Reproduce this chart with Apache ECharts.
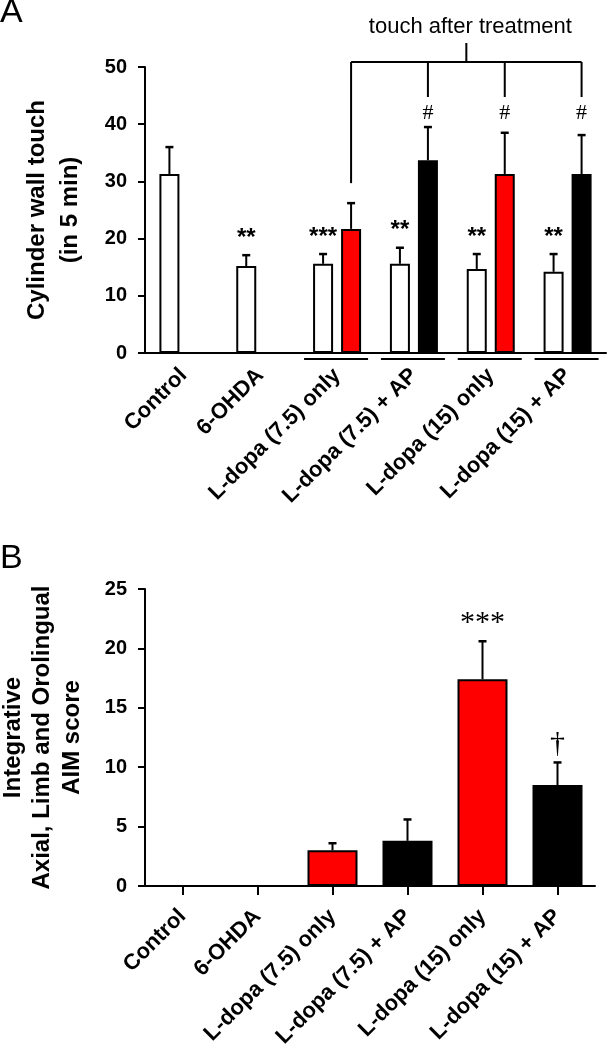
<!DOCTYPE html>
<html><head><meta charset="utf-8">
<script src="https://cdn.jsdelivr.net/npm/echarts@6/dist/echarts.min.js"></script>
<style>html,body{margin:0;padding:0;background:#fff}#c{width:607px;height:1050px}</style>
</head><body><div id="c"></div>
<script>
// ---------- data ----------
const categories = ['Control', '6-OHDA', 'L-dopa (7.5) only', 'L-dopa (7.5) + AP', 'L-dopa (15) only', 'L-dopa (15) + AP'];
const touchBefore = [31.3, 15.2, 15.6, 15.6, 14.7, 14.2];
const touchBeforeErr = [4.7, 1.9, 1.7, 2.8, 2.6, 3.1];
const touchAfter = [null, null, 21.7, 33.7, 31.3, 31.3];
const touchAfterErr = [null, null, 4.5, 5.8, 7.2, 6.8];
const touchBeforeMarks = ['', '**', '***', '**', '**', '**'];
const touchAfterMarks = ['', '', '', '#', '#', '#'];
const aimScore = [0, 0, 3.0, 3.8, 17.4, 8.5];
const aimErr = [0, 0, 0.6, 1.8, 3.2, 1.9];
const aimMarks = ['', '', '', '', '***', '\u2020'];
const touchTicks = [0, 10, 20, 30, 40, 50];
const aimTicks = [0, 5, 10, 15, 20, 25];
const touchTitle = 'Cylinder wall touch\n(in 5 min)';
const aimTitle = 'Integrative\nAxial, Limb and Orolingual\nAIM score';
const bracketText = 'touch after treatment';

// ---------- style ----------
const SANS = 'Liberation Sans';
const RED = '#ff0000', BLACK = '#000000';
const BAR_W = 20, BAR_GAP = 8;
const OFF = (BAR_W + BAR_GAP) / 2;
const HASH_LEVEL = 42;

function errRender(offset, marks, markFont, markGap, fixedLevel) {
  return function (params, api) {
    const i = api.value(0), v = api.value(1), e = api.value(2);
    if (v == null || isNaN(v)) return;
    const base = api.coord([i, v]);
    const top = api.coord([i, v + e]);
    const x = base[0] + offset;
    const children = [];
    if (e > 0) {
      children.push({ type: 'line', shape: { x1: x, y1: base[1], x2: x, y2: top[1] }, style: { stroke: '#000', lineWidth: 2 } });
      children.push({ type: 'line', shape: { x1: x - 4, y1: top[1], x2: x + 4, y2: top[1] }, style: { stroke: '#000', lineWidth: 2.5 } });
    }
    const m = marks[params.dataIndex];
    if (m) {
      const y = fixedLevel != null ? api.coord([i, fixedLevel])[1] : top[1] - markGap;
      children.push({ type: 'text', x: x, y: y, style: { text: m, font: markFont, fill: '#000', textAlign: 'center', textVerticalAlign: 'middle' } });
    }
    return { type: 'group', children };
  };
}

const axisLineStyle = { lineStyle: { color: '#000', width: 2 } };

const option = {
  animation: false,
  backgroundColor: '#fff',
  graphic: [
    { type: 'text', left: 0, top: -4, style: { text: 'A', font: '34px ' + SANS, fill: '#000' } },
    { type: 'text', left: 0, top: 542, style: { text: 'B', font: '34px ' + SANS, fill: '#000' } }
  ],
  grid: [
    { left: 145, top: 67, width: 461, height: 286, containLabel: false, outerBoundsMode: 'none' },
    { left: 145, top: 589, width: 450, height: 297, containLabel: false, outerBoundsMode: 'none' }
  ],
  xAxis: [
    {
      type: 'category', gridIndex: 0, data: categories,
      axisLine: axisLineStyle, axisTick: { show: false },
      axisLabel: { rotate: 45, interval: 0, margin: 19, color: '#000', fontFamily: SANS, fontWeight: 'bold', fontSize: 22 }
    },
    {
      type: 'category', gridIndex: 1, data: categories,
      axisLine: axisLineStyle,
      axisTick: { show: true, alignWithLabel: true, length: 9, lineStyle: { color: '#000', width: 2 } },
      axisLabel: { rotate: 45, interval: 0, margin: 27, color: '#000', fontFamily: SANS, fontWeight: 'bold', fontSize: 22 }
    }
  ],
  yAxis: [
    {
      type: 'value', gridIndex: 0, min: touchTicks[0], max: touchTicks[touchTicks.length - 1], interval: touchTicks[1] - touchTicks[0],
      axisLine: { show: true, lineStyle: { color: '#000', width: 2 } },
      axisTick: { show: true, length: 7, lineStyle: { color: '#000', width: 2 } },
      axisLabel: { margin: 18, color: '#000', fontFamily: SANS, fontWeight: 'bold', fontSize: 20 },
      splitLine: { show: false },
      name: touchTitle, nameLocation: 'middle', nameRotate: 90, nameGap: 58,
      nameTextStyle: { color: '#000', fontFamily: SANS, fontWeight: 'bold', fontSize: 24, lineHeight: 33 }
    },
    {
      type: 'value', gridIndex: 1, min: aimTicks[0], max: aimTicks[aimTicks.length - 1], interval: aimTicks[1] - aimTicks[0],
      axisLine: { show: true, lineStyle: { color: '#000', width: 2 } },
      axisTick: { show: true, length: 7, lineStyle: { color: '#000', width: 2 } },
      axisLabel: { margin: 18, color: '#000', fontFamily: SANS, fontWeight: 'bold', fontSize: 20 },
      splitLine: { show: false },
      name: aimTitle, nameLocation: 'middle', nameRotate: 90, nameGap: 58,
      nameTextStyle: { color: '#000', fontFamily: SANS, fontWeight: 'bold', fontSize: 24, lineHeight: 29.5 }
    }
  ],
  series: [
    {
      type: 'bar', name: 'before', xAxisIndex: 0, yAxisIndex: 0,
      data: touchBefore, barWidth: BAR_W, barGap: (BAR_GAP / BAR_W * 100) + '%',
      itemStyle: { color: '#fff', borderColor: '#000', borderWidth: 2 }
    },
    {
      type: 'bar', name: 'after', xAxisIndex: 0, yAxisIndex: 0,
      data: touchAfter.map(v => v == null ? '-' : v), barWidth: BAR_W,
      itemStyle: { color: p => (p.dataIndex % 2 === 0 ? RED : BLACK), borderColor: '#000', borderWidth: 2 }
    },
    {
      type: 'custom', xAxisIndex: 0, yAxisIndex: 0, z: 5, clip: false,
      data: touchBefore.map((v, i) => [i, v, touchBeforeErr[i]]),
      renderItem: errRender(-OFF, touchBeforeMarks, 'bold 24px ' + SANS, 17, null)
    },
    {
      type: 'custom', xAxisIndex: 0, yAxisIndex: 0, z: 5, clip: false,
      data: touchAfter.map((v, i) => [i, v == null ? NaN : v, touchAfterErr[i] == null ? NaN : touchAfterErr[i]]),
      renderItem: errRender(OFF, touchAfterMarks, '22px Liberation Serif', 0, HASH_LEVEL)
    },
    {
      // underlines below paired groups
      type: 'custom', xAxisIndex: 0, yAxisIndex: 0, z: 5, clip: false,
      data: touchAfter.map((v, i) => [i, v == null ? NaN : 0]).filter(d => !isNaN(d[1])),
      renderItem: function (params, api) {
        const p = api.coord([api.value(0), 0]);
        return { type: 'line', shape: { x1: p[0] - 33, y1: p[1] + 6, x2: p[0] + 31, y2: p[1] + 6 }, style: { stroke: '#000', lineWidth: 2 } };
      }
    },
    {
      // bracket "touch after treatment"
      type: 'custom', xAxisIndex: 0, yAxisIndex: 0, z: 5, clip: false,
      data: [[0, 0]],
      renderItem: function (params, api) {
        const idx = [];
        touchAfter.forEach((v, i) => { if (v != null) idx.push(i); });
        const xs = idx.map(i => api.coord([i, 0])[0] + OFF);
        const gridTop = api.coord([0, touchTicks[touchTicks.length - 1]])[1];
        const yH = gridTop - 5;
        const first = idx[0];
        const leftEnd = api.coord([first, touchAfter[first] + touchAfterErr[first]])[1] - 20;
        const xMid = (xs[0] + xs[xs.length - 1]) / 2;
        const st = { stroke: '#000', lineWidth: 2 };
        const ch = [
          { type: 'line', shape: { x1: xs[0], y1: yH, x2: xs[xs.length - 1], y2: yH }, style: st },
          { type: 'line', shape: { x1: xs[0], y1: yH, x2: xs[0], y2: leftEnd }, style: st },
          { type: 'line', shape: { x1: xMid, y1: yH, x2: xMid, y2: gridTop - 24 }, style: st },
          { type: 'text', x: xMid + 4, y: gridTop - 40, style: { text: bracketText, font: '22px ' + SANS, fill: '#000', textAlign: 'center', textVerticalAlign: 'middle' } }
        ];
        for (let k = 1; k < xs.length; k++) {
          ch.push({ type: 'line', shape: { x1: xs[k], y1: yH, x2: xs[k], y2: gridTop + 30 }, style: st });
        }
        return { type: 'group', children: ch };
      }
    },
    {
      type: 'bar', name: 'AIM', xAxisIndex: 1, yAxisIndex: 1,
      data: aimScore.map(v => (v === 0 ? '-' : v)), barWidth: 50,
      itemStyle: { color: p => (p.dataIndex % 2 === 0 ? RED : BLACK), borderColor: '#000', borderWidth: 2 }
    },
    {
      type: 'custom', xAxisIndex: 1, yAxisIndex: 1, z: 5, clip: false,
      data: aimScore.map((v, i) => [i, v, aimErr[i]]),
      renderItem: errRender(0, aimMarks, '30px Liberation Serif', 18, null)
    }
  ]
};

const chart = echarts.init(document.getElementById('c'), null, { renderer: 'canvas' });
chart.setOption(option);
</script>
</body></html>
